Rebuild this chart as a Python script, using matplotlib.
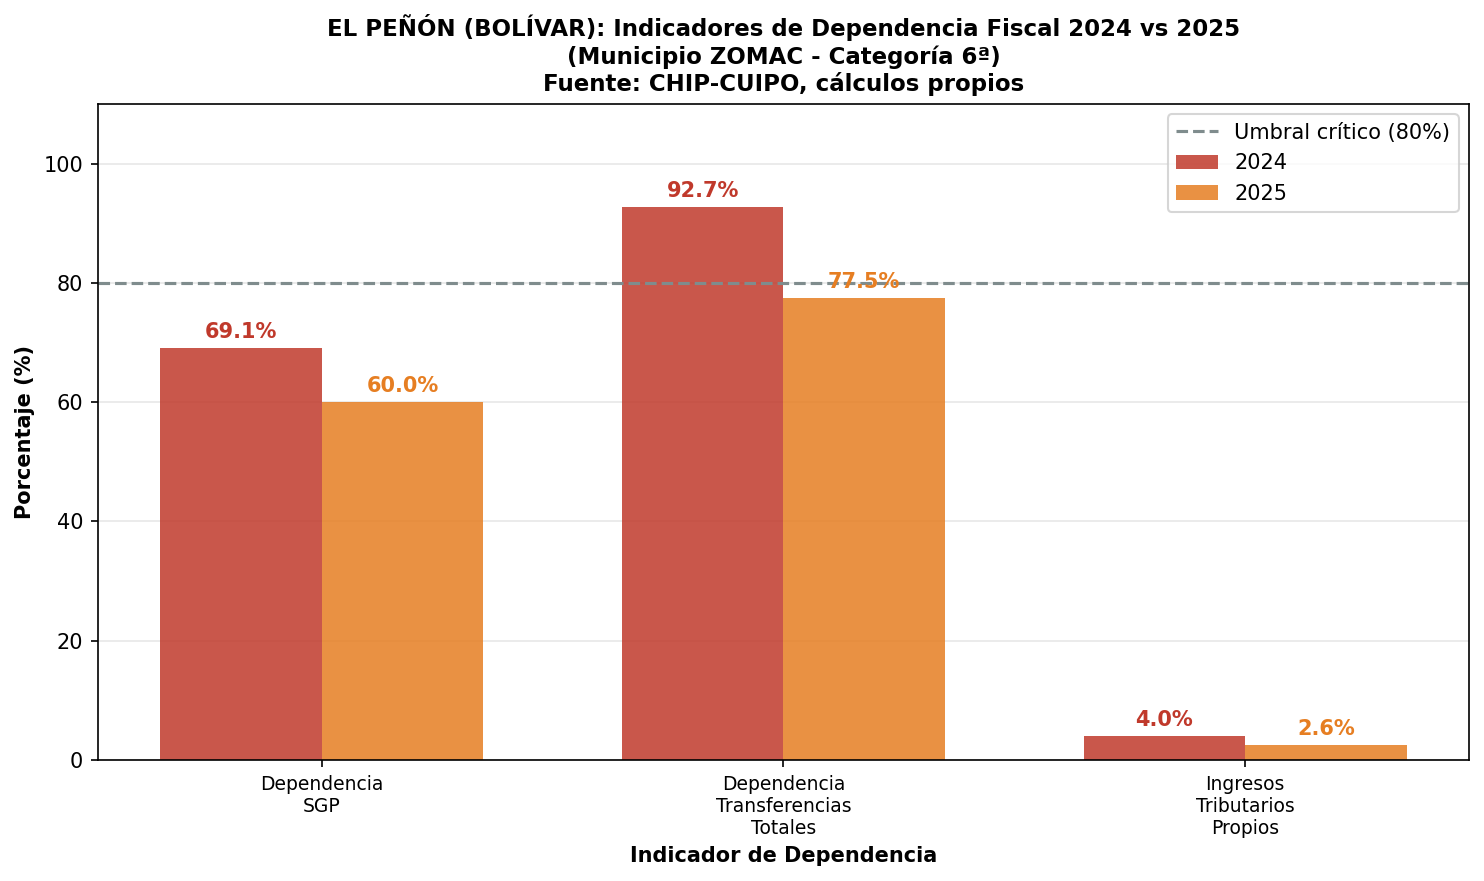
import matplotlib
matplotlib.use("Agg")
import matplotlib.pyplot as plt
import numpy as np

categories = ["Dependencia\nSGP", "Dependencia\nTransferencias\nTotales", "Ingresos\nTributarios\nPropios"]
values_2024 = [69.1, 92.7, 4.0]
values_2025 = [60.0, 77.5, 2.6]
threshold = 80

fig, ax = plt.subplots(figsize=(1484/150, 881/150), dpi=150)
fig.subplots_adjust(left=0.066, right=0.9899, top=0.882, bottom=0.1373)

x = np.arange(len(categories))
w = 0.35
ax.axhline(threshold, color='#7f8c8d', linestyle='--', linewidth=1.5, label='Umbral crítico (80%)')
b1 = ax.bar(x - w/2, values_2024, w, color='#c0392b', alpha=0.85, label='2024')
b2 = ax.bar(x + w/2, values_2025, w, color='#e67e22', alpha=0.85, label='2025')

for bars, vals, c in [(b1, values_2024, '#c0392b'), (b2, values_2025, '#e67e22')]:
    for r, v in zip(bars, vals):
        ax.text(r.get_x() + r.get_width()/2, v + 1, f"{v:.1f}%", ha='center', va='bottom',
                fontsize=10, fontweight='bold', color=c)

ax.set_ylim(0, 110)
ax.set_xticks(x)
ax.set_xticklabels(categories, fontsize=9)
ax.tick_params(axis='y', labelsize=10)
ax.set_ylabel('Porcentaje (%)', fontsize=10, fontweight='bold')
ax.set_xlabel('Indicador de Dependencia', fontsize=10, fontweight='bold')
ax.set_title('EL PEÑÓN (BOLÍVAR): Indicadores de Dependencia Fiscal 2024 vs 2025\n(Municipio ZOMAC - Categoría 6ª)\nFuente: CHIP-CUIPO, cálculos propios',
             fontsize=11, fontweight='bold')
ax.grid(axis='y', alpha=0.3)
ax.set_axisbelow(True)
ax.legend(loc='upper right', fontsize=10)

fig.savefig('out.png', dpi=150)
